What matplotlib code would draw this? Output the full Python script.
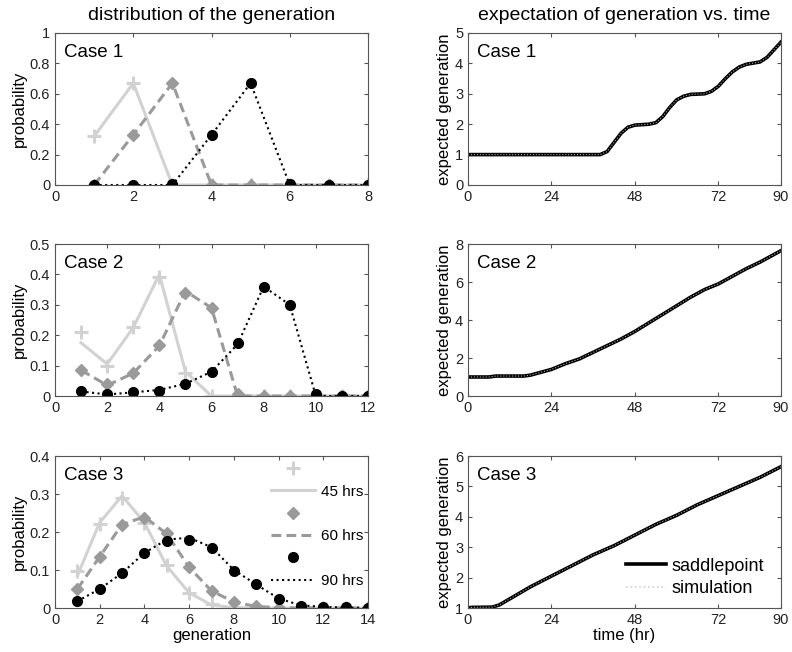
import numpy as np
import matplotlib
matplotlib.use("Agg")
import matplotlib.pyplot as plt

plt.rcParams['font.family'] = ['Liberation Sans', 'DejaVu Sans']
plt.rcParams['axes.edgecolor'] = '#555555'
plt.rcParams['xtick.color'] = '#555555'
plt.rcParams['ytick.color'] = '#555555'
plt.rcParams['xtick.labelcolor'] = '#222222'
plt.rcParams['ytick.labelcolor'] = '#222222'

# --- Data: distribution of generation (markers = simulation, lines = saddlepoint) ---
gen1 = [1, 2, 3, 4, 5, 6, 7, 8]
c1_45_pts = [0.32, 0.67, 0.0, 0.0, 0.0, 0.0, 0.0, 0.0]
c1_45_line = [0.32, 0.67, 0.0, 0.0, 0.0, 0.0, 0.0, 0.0]
c1_60_pts = [0.0, 0.33, 0.67, 0.0, 0.0, 0.0, 0.0, 0.0]
c1_60_line = [0.0, 0.33, 0.67, 0.0, 0.0, 0.0, 0.0, 0.0]
c1_90_pts = [0.0, 0.0, 0.005, 0.33, 0.67, 0.005, 0.0, 0.0]
c1_90_line = [0.0, 0.0, 0.0, 0.33, 0.67, 0.0, 0.0, 0.0]

gen2 = [1, 2, 3, 4, 5, 6, 7, 8, 9, 10, 11, 12]
c2_45_pts = [0.21, 0.10, 0.228, 0.39, 0.075, 0.0, 0.0, 0.0, 0.0, 0.0, 0.0, 0.0]
c2_45_line = [0.175, 0.105, 0.225, 0.40, 0.08, 0.0, 0.0, 0.0, 0.0, 0.0, 0.0, 0.0]
c2_60_pts = [0.087, 0.038, 0.075, 0.167, 0.34, 0.29, 0.005, 0.0, 0.0, 0.0, 0.0, 0.0]
c2_60_line = [0.085, 0.035, 0.075, 0.165, 0.345, 0.29, 0.0, 0.0, 0.0, 0.0, 0.0, 0.0]
c2_90_pts = [0.015, 0.005, 0.012, 0.018, 0.038, 0.078, 0.173, 0.357, 0.298, 0.008, 0.0, 0.0]
c2_90_line = [0.015, 0.005, 0.012, 0.02, 0.04, 0.08, 0.17, 0.36, 0.30, 0.0, 0.0, 0.0]

gen3 = [1, 2, 3, 4, 5, 6, 7, 8, 9, 10, 11, 12, 13, 14]
c3_45_pts = [0.098, 0.222, 0.29, 0.225, 0.112, 0.04, 0.01, 0.0, 0.0, 0.0, 0.0, 0.0, 0.0, 0.0]
c3_45_line = [0.085, 0.225, 0.295, 0.225, 0.11, 0.04, 0.008, 0.001, 0.0, 0.0, 0.0, 0.0, 0.0, 0.0]
c3_60_pts = [0.05, 0.133, 0.218, 0.237, 0.198, 0.107, 0.044, 0.017, 0.004, 0.001, 0.0, 0.0, 0.0, 0.0]
c3_60_line = [0.05, 0.135, 0.22, 0.24, 0.195, 0.107, 0.045, 0.016, 0.004, 0.001, 0.0, 0.0, 0.0, 0.0]
c3_90_pts = [0.018, 0.05, 0.092, 0.145, 0.177, 0.18, 0.158, 0.098, 0.063, 0.025, 0.004, 0.003, 0.002, 0.001]
c3_90_line = [0.018, 0.05, 0.092, 0.145, 0.18, 0.185, 0.16, 0.10, 0.062, 0.025, 0.007, 0.003, 0.001, 0.0]

# --- Data: expected generation vs time ---
t1 = [0, 38, 40, 42, 44, 46, 48, 52, 54, 56, 58, 60, 62, 64, 68, 70, 72, 74, 76, 78, 80, 84, 86, 88, 90]
e1 = [1, 1, 1.1, 1.4, 1.7, 1.9, 1.97, 2.0, 2.05, 2.25, 2.55, 2.8, 2.92, 2.98, 3.0, 3.08, 3.25,
      3.5, 3.72, 3.88, 3.97, 4.05, 4.2, 4.45, 4.7]
t2 = [0, 6, 8, 16, 18, 22, 24, 28, 32, 36, 40, 44, 48, 52, 56, 60, 64, 68, 72, 76, 80, 84, 88, 90]
e2 = [1, 1.0, 1.05, 1.05, 1.1, 1.3, 1.4, 1.7, 1.95, 2.3, 2.65, 3.0, 3.4, 3.85, 4.3, 4.75, 5.2,
      5.6, 5.9, 6.3, 6.7, 7.05, 7.45, 7.65]
t3 = [0, 1, 7, 9, 12, 18, 24, 30, 36, 42, 48, 54, 60, 66, 72, 78, 84, 90]
e3 = [1, 1.02, 1.03, 1.1, 1.3, 1.7, 2.05, 2.4, 2.75, 3.05, 3.4, 3.75, 4.05, 4.4, 4.7, 5.0, 5.3, 5.65]

C45 = '#d2d2d2'
C60 = '#9a9a9a'
C90 = '#000000'

fig = plt.figure(figsize=(7.92, 6.52), dpi=100)

lefts = [55 / 792, 468 / 792]
width = 313 / 792
height = 152 / 652
bottoms = [1 - 185 / 652, 1 - 396 / 652, 1 - 608 / 652]


def style_axes(ax):
    ax.tick_params(direction='in', top=True, right=True, labelsize=10.5, length=3, width=0.8)
    for s in ax.spines.values():
        s.set_linewidth(0.8)


def plot_dist(ax, gen, p45, l45, p60, l60, p90, l90):
    h = []
    h += ax.plot(gen, p45, linestyle='none', marker='+', ms=10, mew=2.2, color=C45)
    h += ax.plot(gen, l45, '-', lw=2.2, color=C45)
    h += ax.plot(gen, p60, linestyle='none', marker='D', ms=6.5, color=C60, mec=C60)
    h += ax.plot(gen, l60, '--', lw=2.2, color=C60, dashes=(3.2, 1.7))
    h += ax.plot(gen, p90, linestyle='none', marker='o', ms=7, color=C90)
    h += ax.plot(gen, l90, ':', lw=1.5, color=C90)
    return h


dist_data = [
    (gen1, c1_45_pts, c1_45_line, c1_60_pts, c1_60_line, c1_90_pts, c1_90_line),
    (gen2, c2_45_pts, c2_45_line, c2_60_pts, c2_60_line, c2_90_pts, c2_90_line),
    (gen3, c3_45_pts, c3_45_line, c3_60_pts, c3_60_line, c3_90_pts, c3_90_line),
]
xlims = [8, 12, 14]
ylims = [1.0, 0.5, 0.4]
ysteps = [0.2, 0.1, 0.1]

for i in range(3):
    ax = fig.add_axes([lefts[0], bottoms[i], width, height])
    h = plot_dist(ax, *dist_data[i])
    ax.set_xlim(0, xlims[i])
    ax.set_ylim(0, ylims[i])
    ax.set_xticks(np.arange(0, xlims[i] + 1, 2))
    yt = np.round(np.arange(0, ylims[i] + 1e-9, ysteps[i]), 2)
    ax.set_yticks(yt)
    ax.set_yticklabels(['%g' % v for v in yt])
    ax.set_ylabel('probability', fontsize=12, labelpad=2)
    ax.text(0.03, 0.84, 'Case %d' % (i + 1), transform=ax.transAxes, fontsize=13.5)
    style_axes(ax)
    if i == 0:
        ax.set_title('distribution of the generation', fontsize=14, pad=9)
    if i == 2:
        ax.set_xlabel('generation', fontsize=12, labelpad=1)
        ax.legend(h, ['', '45 hrs', '', '60 hrs', '', '90 hrs'], loc='upper right',
                  bbox_to_anchor=(1.005, 1.0),
                  frameon=False, fontsize=11, handlelength=2.9, numpoints=1,
                  labelspacing=0.55, borderaxespad=0.0, handletextpad=0.4)

time_data = [(t1, e1), (t2, e2), (t3, e3)]
eylims = [(0, 5), (0, 8), (1, 6)]
eyticks = [np.arange(0, 6, 1), np.arange(0, 9, 2), np.arange(1, 7, 1)]

for i in range(3):
    ax = fig.add_axes([lefts[1], bottoms[i], width, height])
    t, e = time_data[i]
    ax.plot(t, e, '-', lw=2.6, color='black', label='saddlepoint')
    ax.plot(t, e, ':', lw=0.8, color='#a8a8a8', label='simulation')
    ax.set_xlim(0, 90)
    ax.set_ylim(*eylims[i])
    ax.set_xticks([0, 24, 48, 72, 90])
    ax.set_yticks(eyticks[i])
    ax.set_ylabel('expected generation', fontsize=12, labelpad=2)
    ax.text(0.03, 0.84, 'Case %d' % (i + 1), transform=ax.transAxes, fontsize=13.5)
    style_axes(ax)
    if i == 0:
        ax.set_title('expectation of generation vs. time', fontsize=14, pad=9)
    if i == 2:
        ax.set_xlabel('time (hr)', fontsize=12, labelpad=1)
        leg = ax.legend(loc='lower right', bbox_to_anchor=(0.98, 0.0), frameon=False,
                        fontsize=13, handlelength=2.2, handletextpad=0.3,
                        labelspacing=0.3, borderaxespad=0.2)
        leg.get_lines()[1].set_color('#cfcfcf')
        leg.get_lines()[1].set_linewidth(1.2)

fig.savefig('out.png', dpi=100)
